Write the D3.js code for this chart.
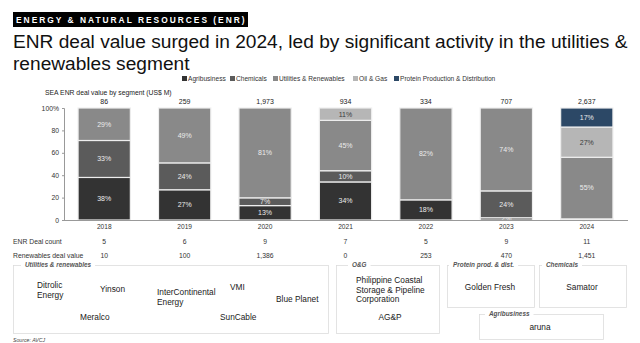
<!DOCTYPE html>
<html><head><meta charset="utf-8">
<script src="https://cdn.jsdelivr.net/npm/d3@7"></script>
<style>
html,body{margin:0;padding:0;background:#fff;}
svg{display:block;font-family:"Liberation Sans",Arial,sans-serif;}
</style></head>
<body><svg id="c" width="640" height="343"></svg>
<script>
// ---- data ----
const years = ["2018","2019","2020","2021","2022","2023","2024"];
const segments = ["Agribusiness","Chemicals","Utilities & Renewables","Oil & Gas","Protein Production & Distribution"];
const agribusiness = [38,27,13,34,18,2,0];
const chemicals    = [33,24,7,10,0,24,1];
const utilities    = [29,49,81,45,82,74,55];
const oilGas       = [0,0,0,11,0,0,27];
const protein      = [0,0,0,0,0,0,17];
const totals = [86,259,1973,934,334,707,2637];
const dealCount = [5,6,9,7,5,9,11];
const renewablesValue = [10,100,1386,0,253,470,1451];
const yTicks = [0,20,40,60,80,100];
const utilitiesCompanies = [["Ditrolic","Energy"],["Yinson"],["InterContinental","Energy"],["VMI"],["Blue Planet"],["Meralco"],["SunCable"]];
const ogCompanies = [["Philippine Coastal","Storage & Pipeline","Corporation"],["AG&P"]];
const proteinCompanies = [["Golden Fresh"]];
const chemicalsCompanies = [["Samator"]];
const agriCompanies = [["aruna"]];

const colors = ["#333333","#5b5b5b","#898989","#b6b6b6","#2c4866"];
const labelColors = ["#ececec","#ececec","#ececec","#3a3a3a","#ececec"];
const segArrays = [agribusiness,chemicals,utilities,oilGas,protein];

const svg = d3.select("#c");

// header
svg.append("rect").attr("x",13).attr("y",12).attr("width",235).attr("height",15).attr("fill","#000");
svg.append("text").attr("x",16).attr("y",23.3).attr("fill","#fff").attr("font-size",8.4).attr("font-weight","bold")
  .attr("letter-spacing",2.0).text("ENERGY & NATURAL RESOURCES (ENR)");

// title
const t1 = svg.append("text").attr("x",13).attr("y",47.5).attr("fill","#111").attr("font-size",19)
  .text("ENR deal value surged in 2024, led by significant activity in the utilities &");
const w = t1.node().getComputedTextLength();
const fs = 19*615/w;
t1.attr("font-size",fs);
svg.append("text").attr("x",13).attr("y",69.5).attr("fill","#111").attr("font-size",fs).text("renewables segment");

// legend
const legX = [182,230,273,353,394];
segments.forEach((s,i)=>{
  const g = svg.append("g").attr("transform",`translate(${legX[i]},81)`);
  g.append("rect").attr("x",0).attr("y",-5).attr("width",5).attr("height",5).attr("fill",colors[i]);
  g.append("text").attr("x",6).attr("y",0).attr("font-size",6.6).attr("fill","#333").text(s);
});

// subtitle
svg.append("text").attr("x",45).attr("y",95).attr("font-size",6.8).attr("fill","#222").text("SEA ENR deal value by segment (US$ M)");

// scales
const x = d3.scaleBand().domain(years).range([64,627]).paddingInner(0.35).paddingOuter(0.175);
const y = d3.scaleLinear().domain([0,1]).range([220,108]);

const rows = years.map((yr,i)=>{
  const o = {year:yr};
  segments.forEach((s,k)=>o[s]=segArrays[k][i]);
  return o;
});
const stack = d3.stack().keys(segments).offset(d3.stackOffsetExpand)(rows);

stack.forEach((layer,k)=>{
  const g = svg.append("g");
  layer.forEach((d,i)=>{
    const v = segArrays[k][i];
    if(v<=0) return;
    g.append("rect").attr("x",x(years[i])).attr("width",x.bandwidth())
      .attr("y",y(d[1])).attr("height",y(d[0])-y(d[1]))
      .attr("fill",colors[k]).attr("stroke","#eeeeee").attr("stroke-width",1.2);
  });
  layer.forEach((d,i)=>{
    const v = segArrays[k][i];
    if(v<=0) return;
    g.append("text").attr("x",x(years[i])+x.bandwidth()/2).attr("y",(y(d[0])+y(d[1]))/2+2.4)
      .attr("text-anchor","middle").attr("font-size",7).attr("fill",labelColors[k]).text(v+"%");
  });
});

// axes
const yAxis = d3.axisLeft(y).tickValues(yTicks.map(v=>v/100)).tickSize(2)
  .tickFormat(v=>Math.round(v*100)===100?"100%":Math.round(v*100));
const ya = svg.append("g").attr("transform","translate(64,0)").call(yAxis);
ya.select(".domain").attr("stroke","#999");
ya.selectAll(".tick line").attr("stroke","#999");
ya.selectAll(".tick text").attr("font-size",6.8).attr("fill","#333").attr("font-family","Liberation Sans, Arial, sans-serif");

svg.append("line").attr("x1",62).attr("x2",628).attr("y1",220.5).attr("y2",220.5).attr("stroke","#999").attr("stroke-width",1);

const xAxis = d3.axisBottom(x).tickSize(0).tickPadding(3.5);
const xa = svg.append("g").attr("transform","translate(0,221)").call(xAxis);
xa.select(".domain").remove();
xa.selectAll(".tick text").attr("font-size",6.6).attr("fill","#333").attr("font-family","Liberation Sans, Arial, sans-serif");

// totals
svg.append("g").selectAll("text").data(totals).join("text")
  .attr("x",(d,i)=>x(years[i])+x.bandwidth()/2).attr("y",104).attr("text-anchor","middle")
  .attr("font-size",7).attr("fill","#222").text(d=>d3.format(",")(d));

// table rows
svg.append("text").attr("x",13).attr("y",243.5).attr("font-size",6.8).attr("fill","#333").text("ENR Deal count");
svg.append("text").attr("x",13).attr("y",258).attr("font-size",6.8).attr("fill","#333").text("Renewables deal value");
svg.append("g").selectAll("text").data(dealCount).join("text")
  .attr("x",(d,i)=>x(years[i])+x.bandwidth()/2).attr("y",243.5).attr("text-anchor","middle")
  .attr("font-size",6.8).attr("fill","#333").text(d=>d);
svg.append("g").selectAll("text").data(renewablesValue).join("text")
  .attr("x",(d,i)=>x(years[i])+x.bandwidth()/2).attr("y",258).attr("text-anchor","middle")
  .attr("font-size",6.8).attr("fill","#333").text(d=>d3.format(",")(d));

// boxes
function box(x0,y0,w0,h0,title,tx){
  const g = svg.append("g");
  g.append("rect").attr("x",x0+0.5).attr("y",y0+0.5).attr("width",w0).attr("height",h0)
    .attr("fill","none").attr("stroke","#dcdcdc").attr("stroke-width",0.8);
  const bg = g.append("rect").attr("y",y0-3).attr("height",6).attr("fill","#fff");
  const t = g.append("text").attr("x",tx).attr("y",y0+2.2).attr("font-size",6.4).attr("font-style","italic")
    .attr("font-weight","bold").attr("fill","#555").text(title);
  const tw = t.node().getComputedTextLength();
  bg.attr("x",tx-4).attr("width",tw+8);
}
function names(list, layout, anchor){
  list.forEach((lines,i)=>{
    const [px,py] = layout[i];
    const t = svg.append("text").attr("x",px).attr("y",py).attr("font-size",8.3).attr("fill","#1a1a1a")
      .attr("text-anchor",anchor[i]);
    lines.forEach((l,j)=>t.append("tspan").attr("x",px).attr("dy",j?9.6:0).text(l));
  });
}
box(13,265,315,68,"Utilities & renewables",25);
names(utilitiesCompanies,[[37,288],[100,292],[157,295],[230,290],[276,302],[80,320],[220,320]],
  ["start","start","start","start","start","start","start"]);
box(336,265,103,68,"O&G",352);
names(ogCompanies,[[356,283],[390,320]],["start","middle"]);
box(447,265,87,42,"Protein prod. & dist.",453);
names(proteinCompanies,[[490,290]],["middle"]);
box(539,265,87,42,"Chemicals",546);
names(chemicalsCompanies,[[582,290]],["middle"]);
box(479,314,124,25,"Agribusiness",489);
names(agriCompanies,[[540,330]],["middle"]);

svg.append("text").attr("x",13).attr("y",342).attr("font-size",5.2).attr("font-style","italic").attr("fill","#444").text("Source: AVCJ");
</script></body></html>
